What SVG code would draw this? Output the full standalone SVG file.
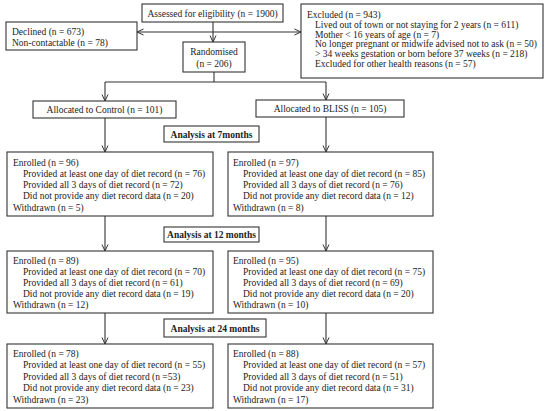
<svg xmlns="http://www.w3.org/2000/svg" width="550" height="411" viewBox="0 0 550 411">
<style>
.b{fill:#fff;stroke:#333;stroke-width:1.1}
text{font-family:"Liberation Serif","Times New Roman",serif;font-size:9.5px;fill:#222}
.c{text-anchor:middle}
.h{font-weight:bold}
.l{fill:none;stroke:#333;stroke-width:1.1}
</style>
<defs>
<marker id="a" viewBox="0 0 8 8" refX="7.5" refY="4" markerWidth="8" markerHeight="8" markerUnits="userSpaceOnUse" orient="auto">
<path d="M1,1 L7.5,4 L1,7" fill="none" stroke="#333" stroke-width="1"/>
</marker>
</defs>
<rect width="550" height="411" fill="#fff"/>
<g id="connectors">
<line class="l" x1="213" y1="22" x2="213" y2="42" marker-end="url(#a)"/>
<line class="l" x1="213" y1="32" x2="137" y2="32" marker-end="url(#a)"/>
<line class="l" x1="213" y1="32" x2="301" y2="32" marker-end="url(#a)"/>
<polyline class="l" points="214,72 214,82"/>
<line class="l" x1="105" y1="82" x2="326" y2="82"/>
<line class="l" x1="105" y1="82" x2="105" y2="101" marker-end="url(#a)"/>
<line class="l" x1="326" y1="82" x2="326" y2="100" marker-end="url(#a)"/>
<line class="l" x1="105" y1="118" x2="105" y2="152" marker-end="url(#a)"/>
<line class="l" x1="326" y1="117" x2="326" y2="152" marker-end="url(#a)"/>
<line class="l" x1="105" y1="216" x2="105" y2="251" marker-end="url(#a)"/>
<line class="l" x1="326" y1="216" x2="326" y2="251" marker-end="url(#a)"/>
<line class="l" x1="105" y1="313" x2="105" y2="344" marker-end="url(#a)"/>
<line class="l" x1="326" y1="313" x2="326" y2="344" marker-end="url(#a)"/>
</g>
<g id="assessed">
<rect class="b" x="142" y="4" width="141" height="18"/>
<text class="c" x="212.5" y="16.5">Assessed for eligibility (n = 1900)</text>
</g>
<g id="declined">
<rect class="b" x="6" y="22" width="131" height="28"/>
<text x="12" y="34.5">Declined (n = 673)</text>
<text x="12" y="46">Non-contactable (n = 78)</text>
</g>
<g id="excluded">
<rect class="b" x="301" y="4" width="242" height="74"/>
<text x="307" y="18">Excluded (n = 943)</text>
<text x="315" y="28">Lived out of town or not staying for 2 years  (n = 611)</text>
<text x="315" y="37.5">Mother &lt; 16 years of age (n = 7)</text>
<text x="315" y="47">No longer pregnant or midwife advised not to ask (n = 50)</text>
<text x="315" y="56.5">&gt; 34 weeks gestation or born before 37 weeks (n = 218)</text>
<text x="315" y="66.5">Excluded for other health reasons (n = 57)</text>
</g>
<g id="randomised">
<rect class="b" x="183" y="42" width="62" height="30"/>
<text class="c" x="214" y="55">Randomised</text>
<text class="c" x="214" y="66.5">(n = 206)</text>
</g>
<g id="control">
<rect class="b" x="33" y="101" width="143" height="17"/>
<text class="c" x="104.5" y="112.5">Allocated to Control (n = 101)</text>
</g>
<g id="bliss">
<rect class="b" x="256" y="100" width="148" height="17"/>
<text class="c" x="330" y="111.5">Allocated to BLISS (n = 105)</text>
</g>
<g id="analysis7">
<rect class="b" x="164" y="126" width="95" height="16"/>
<text class="c h" x="211.5" y="137.5">Analysis at 7months</text>
</g>
<g id="control7">
<rect class="b" x="7" y="152" width="206" height="64"/>
<text x="13" y="165.5">Enrolled (n = 96)</text>
<text x="23" y="176.5">Provided at least one day of diet record (n = 76)</text>
<text x="23" y="187.5">Provided all 3 days of diet record (n = 72)</text>
<text x="23" y="199">Did not provide any diet record data (n = 20)</text>
<text x="13" y="210.5">Withdrawn (n = 5)</text>
</g>
<g id="bliss7">
<rect class="b" x="228" y="152" width="205" height="64"/>
<text x="233" y="165.5">Enrolled (n = 97)</text>
<text x="243" y="176.5">Provided at least one day of diet record (n = 85)</text>
<text x="243" y="187.5">Provided all 3 days of diet record (n = 76)</text>
<text x="243" y="199">Did not provide any diet record data (n = 12)</text>
<text x="233" y="210.5">Withdrawn (n = 8)</text>
</g>
<g id="analysis12">
<rect class="b" x="164" y="227" width="95" height="15"/>
<text class="c h" x="211.5" y="238">Analysis at 12 months</text>
</g>
<g id="control12">
<rect class="b" x="7" y="251" width="206" height="62"/>
<text x="13" y="264">Enrolled (n = 89)</text>
<text x="23" y="275">Provided at least one day of diet record (n = 70)</text>
<text x="23" y="286">Provided all 3 days of diet record (n = 61)</text>
<text x="23" y="297">Did not provide any diet record data (n = 19)</text>
<text x="13" y="308">Withdrawn (n = 12)</text>
</g>
<g id="bliss12">
<rect class="b" x="228" y="251" width="205" height="62"/>
<text x="233" y="264">Enrolled (n = 95)</text>
<text x="243" y="275">Provided at least one day of diet record (n = 75)</text>
<text x="243" y="286">Provided all 3 days of diet record (n = 69)</text>
<text x="243" y="297">Did not provide any diet record data (n = 20)</text>
<text x="233" y="308">Withdrawn (n = 10)</text>
</g>
<g id="analysis24">
<rect class="b" x="164" y="319" width="102" height="18"/>
<text class="c h" x="215" y="331.5">Analysis at 24 months</text>
</g>
<g id="control24">
<rect class="b" x="7" y="344" width="206" height="64"/>
<text x="13" y="356.5">Enrolled (n = 78)</text>
<text x="23" y="368">Provided at least one day of diet record (n = 55)</text>
<text x="23" y="379.5">Provided all 3 days of diet record (n =53)</text>
<text x="23" y="391">Did not provide any diet record data (n = 23)</text>
<text x="13" y="402.5">Withdrawn (n = 23)</text>
</g>
<g id="bliss24">
<rect class="b" x="228" y="344" width="205" height="64"/>
<text x="233" y="356.5">Enrolled (n = 88)</text>
<text x="243" y="368">Provided at least one day of diet record (n = 57)</text>
<text x="243" y="379.5">Provided all 3 days of diet record (n = 51)</text>
<text x="243" y="391">Did not provide any diet record data (n = 31)</text>
<text x="233" y="402.5">Withdrawn (n = 17)</text>
</g>
</svg>
